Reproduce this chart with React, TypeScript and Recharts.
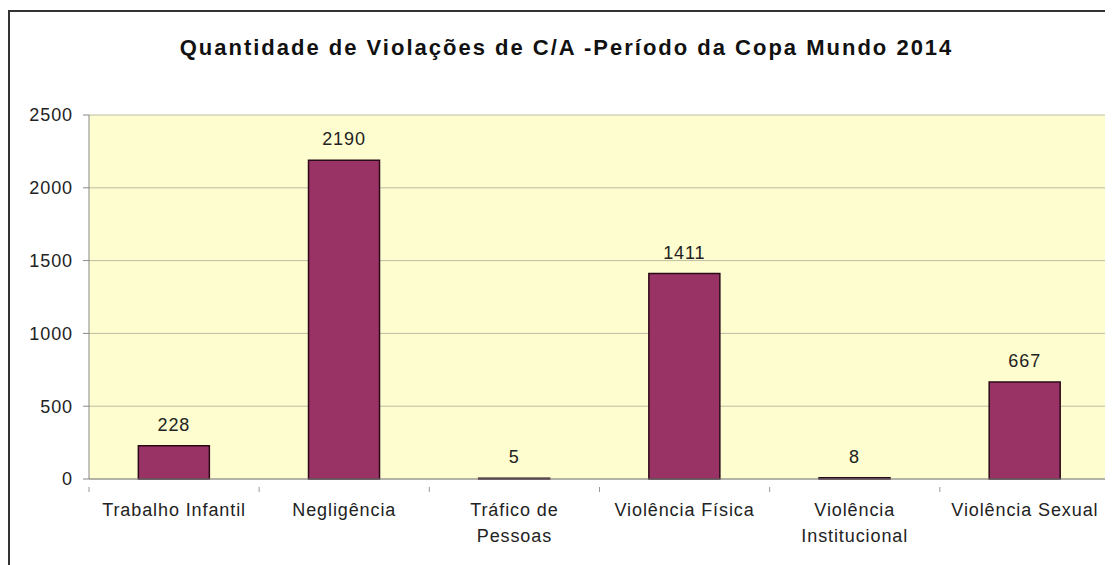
import { Bar, BarChart, CartesianGrid, LabelList, XAxis, YAxis } from "recharts";

const categories = [
  "Trabalho Infantil",
  "Negligência",
  "Tráfico de Pessoas",
  "Violência Física",
  "Violência Institucional",
  "Violência Sexual"
];
const tickLines = [
  ["Trabalho Infantil"],
  ["Negligência"],
  ["Tráfico de", "Pessoas"],
  ["Violência Física"],
  ["Violência", "Institucional"],
  ["Violência Sexual"]
];
const values = [228, 2190, 5, 1411, 8, 667];
const yTicks = [0, 500, 1000, 1500, 2000, 2500];

const data = categories.map((name, i) => ({ name, value: values[i], lines: tickLines[i] }));

const W = 1105;
const H = 557;
const margin = { top: 107, right: 3, left: 21, bottom: 26 };
const Y_W = 60;
const plotW = W - margin.left - margin.right - Y_W;
const band = plotW / categories.length;
const FONT = "'Liberation Sans', Arial, sans-serif";

function CategoryTick(props: any) {
  const { x, y, payload, index } = props;
  const lines = tickLines[index] ?? [payload.value];
  const axisY = y;
  return (
    <g>
      <line x1={x - band / 2} x2={x - band / 2} y1={axisY} y2={axisY + 5} stroke="#999" />
      {index === categories.length - 1 && (
        <line x1={x + band / 2} x2={x + band / 2} y1={axisY} y2={axisY + 5} stroke="#999" />
      )}
      {lines.map((ln: string, i: number) => (
        <text
          key={ln}
          x={x}
          y={axisY + 29 + i * 26}
          textAnchor="middle"
          fill="#222"
          fontSize={18}
          letterSpacing={0.9}
          fontFamily={FONT}
        >
          {ln}
        </text>
      ))}
    </g>
  );
}

export default function App() {
  return (
    <div style={{ position: "relative", width: W, height: H, overflow: "hidden", background: "#fff" }}>
      <div
        style={{
          position: "absolute",
          left: 0,
          top: 2,
          width: W + 20,
          height: H + 20,
          border: "2px solid #333",
          boxSizing: "border-box"
        }}
      />
      <div
        style={{
          position: "absolute",
          top: 27,
          left: 0,
          width: 1117,
          textAlign: "center",
          fontFamily: FONT,
          fontWeight: "bold",
          fontSize: 22,
          letterSpacing: 2,
          color: "#111"
        }}
      >
        Quantidade de Violações de C/A -Período da Copa Mundo 2014
      </div>
      <div style={{ position: "absolute", left: 0, top: 0 }}>
        <BarChart width={W} height={H} data={data} margin={margin} barCategoryGap="29%">
          <CartesianGrid
            fill="#FEFDCF"
            stroke="#BDBDA4"
            vertical={true}
            verticalCoordinatesGenerator={({ offset }: any) => [offset.left + offset.width]}
          />
          <XAxis
            dataKey="name"
            height={60}
            interval={0}
            tickLine={false}
            axisLine={{ stroke: "#888" }}
            tick={<CategoryTick />}
          />
          <YAxis
            width={Y_W}
            domain={[0, 2500]}
            ticks={yTicks}
            tickSize={6}
            tickMargin={10}
            axisLine={{ stroke: "#888" }}
            tickLine={{ stroke: "#888" }}
            tick={{ fill: "#222", fontSize: 18, letterSpacing: 0.9, fontFamily: FONT }}
          />
          <Bar dataKey="value" fill="#993366" stroke="#2a0a18" strokeWidth={1.5} isAnimationActive={false}>
            <LabelList
              dataKey="value"
              position="top"
              offset={15}
              fill="#222"
              fontSize={18}
              letterSpacing={0.9}
              fontFamily={FONT}
            />
          </Bar>
        </BarChart>
      </div>
    </div>
  );
}
